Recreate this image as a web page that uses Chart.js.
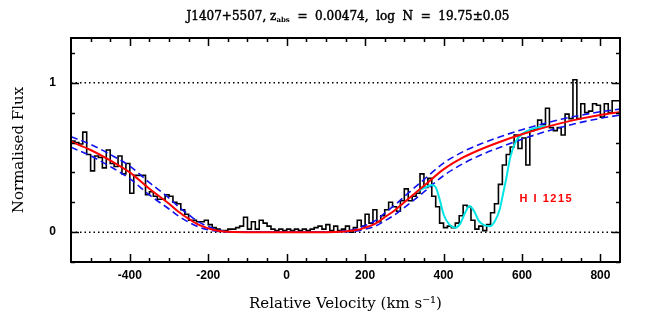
<!DOCTYPE html>
<html>
<head>
<meta charset="utf-8">
<script src="https://cdn.jsdelivr.net/npm/chart.js@4.4.1/dist/chart.umd.min.js"></script>
<style>
html,body{margin:0;padding:0;background:#fff;}
#wrap{width:654px;height:327px;position:relative;}
canvas{display:block;}
</style>
</head>
<body>
<div id="wrap"><canvas id="c" width="654" height="327"></canvas></div>
<script>
// ---------------- data ----------------
const titleParts = ['J1407+5507, z', 'abs', '  =  0.00474,  log  N  =  19.75\u00b10.05'];
const xTitle = 'Relative Velocity (km s\u207b\u00b9)';
const yTitle = 'Normalised Flux';
const lineLabel = 'H I 1215';

const xTickValues = [-550,-500,-450,-400,-350,-300,-250,-200,-150,-100,-50,0,50,100,150,200,250,300,350,400,450,500,550,600,650,700,750,800,850];
const xLabelValues = [-400,-200,0,200,400,600,800];
const yTickValues = [-0.2,0,0.2,0.4,0.6,0.8,1,1.2];
const yLabelValues = [0,1];

// observed spectrum: bin left edges (km/s) and normalised flux
const histVel = [
-550,-540,-530,-520,-510,-500,-490,-480,-470,-460,
-450,-440,-430,-420,-410,-400,-390,-380,-370,-360,
-350,-340,-330,-320,-310,-300,-290,-280,-270,-260,
-250,-240,-230,-220,-210,-200,-190,-180,-170,-160,
-150,-140,-130,-120,-110,-100,-90,-80,-70,-60,
-50,-40,-30,-20,-10,0,10,20,30,40,
50,60,70,80,90,100,110,120,130,140,
150,160,170,180,190,200,210,220,230,240,
250,260,270,280,290,300,310,320,330,340,
350,360,370,380,390,400,410,420,430,440,
450,460,470,480,490,500,510,520,530,540,
550,560,570,580,590,600,610,620,630,640,
650,660,670,680,690,700,710,720,730,740,
750,760,770,780,790,800,810,820,830,840,
850];
const histFlux = [
0.49,0.61,0.60,0.59,0.67,0.52,0.41,0.51,0.50,0.43,
0.55,0.46,0.44,0.51,0.39,0.46,0.26,0.38,0.38,0.38,
0.25,0.27,0.24,0.22,0.22,0.25,0.24,0.20,0.19,0.15,
0.12,0.08,0.08,0.07,0.07,0.08,0.05,0.03,0.02,0.01,
0.01,0.02,0.02,0.03,0.04,0.10,0.02,0.07,0.02,0.08,
0.06,0.04,0.02,0.01,0.02,0.01,0.02,0.01,0.02,0.01,
0.02,0.01,0.02,0.03,0.04,0.02,0.05,0.01,0.04,0.01,
0.02,0.04,0.00,0.03,0.08,0.04,0.12,0.06,0.15,0.07,
0.11,0.15,0.20,0.17,0.14,0.21,0.29,0.21,0.24,0.26,
0.39,0.30,0.36,0.24,0.17,0.06,0.03,0.04,0.03,0.06,
0.11,0.18,0.17,0.08,0.02,0.04,0.01,0.05,0.13,0.19,
0.32,0.45,0.52,0.57,0.65,0.56,0.63,0.45,0.68,0.69,
0.75,0.72,0.83,0.70,0.68,0.70,0.65,0.79,0.76,1.02,
0.76,0.86,0.80,0.81,0.86,0.85,0.77,0.86,0.80,0.88,
0.88];

// Voigt fit (red) and +/- error fits (blue dashed)
const fitVel = [-550,-500,-450,-400,-350,-300,-275,-250,-225,-200,-175,-150,-100,-50,0,50,100,150,175,200,225,250,275,300,350,400,450,500,550,600,650,700,750,800,850];
const fitFlux = [0.605,0.55,0.48,0.40,0.29,0.19,0.135,0.09,0.05,0.025,0.009,0.002,0,0,0,0,0,0.005,0.012,0.03,0.055,0.10,0.145,0.20,0.31,0.42,0.50,0.56,0.61,0.655,0.695,0.73,0.76,0.785,0.805];
const fitUpper = [0.639,0.587,0.520,0.442,0.332,0.228,0.168,0.117,0.069,0.037,0.015,0.004,0,0,0,0,0,0.009,0.019,0.044,0.075,0.128,0.179,0.238,0.352,0.462,0.539,0.596,0.644,0.686,0.723,0.756,0.783,0.806,0.824];
const fitLower = [0.569,0.511,0.439,0.358,0.249,0.155,0.106,0.067,0.035,0.016,0.005,0.001,0,0,0,0,0,0.003,0.007,0.020,0.039,0.075,0.115,0.164,0.269,0.378,0.459,0.522,0.574,0.622,0.665,0.702,0.735,0.762,0.784];

// fit including blended absorbers (cyan)
const blendVel = [330,350,370,380,390,400,415,430,442,455,466,478,490,505,518,530,543,552,560,570,585,602,620,640,660];
const blendFlux = [0.27,0.295,0.315,0.30,0.22,0.12,0.05,0.03,0.055,0.13,0.175,0.14,0.075,0.045,0.04,0.07,0.15,0.26,0.36,0.50,0.61,0.66,0.685,0.70,0.71];

const refLevels = [0, 1];
const labelPos = {v: 594, f: 0.22};

// ---------------- helpers ----------------
const pts = (xs, ys) => xs.map((x, i) => ({x: x, y: ys[i]}));
const xMin = -550, xMax = 850;

const datasets = [
  {data: pts(fitVel, fitFlux), borderColor: '#ff0000', borderWidth: 2, cubicInterpolationMode: 'monotone', pointRadius: 0},
  {data: pts(blendVel, blendFlux), borderColor: '#00e5e5', borderWidth: 2, cubicInterpolationMode: 'monotone', pointRadius: 0},
  {data: pts(fitVel, fitUpper), borderColor: '#1010f0', borderWidth: 1.6, borderDash: [7, 4], cubicInterpolationMode: 'monotone', pointRadius: 0},
  {data: pts(fitVel, fitLower), borderColor: '#1010f0', borderWidth: 1.6, borderDash: [7, 4], cubicInterpolationMode: 'monotone', pointRadius: 0},
  {data: pts(histVel, histFlux), borderColor: '#000', borderWidth: 1.6, stepped: 'after', pointRadius: 0},
];
refLevels.forEach(l => datasets.push({
  data: [{x: xMin, y: l}, {x: xMax, y: l}], borderColor: '#000', borderWidth: 1.5, borderDash: [1.5, 3], pointRadius: 0
}));

const framePlugin = {
  id: 'frame',
  afterDraw(chart) {
    const {ctx, chartArea: a, scales: {x, y}} = chart;
    ctx.save();
    ctx.strokeStyle = '#000';
    ctx.lineWidth = 1.5;
    ctx.beginPath();
    x.ticks.forEach(t => {
      const px = Math.round(x.getPixelForValue(t.value)) + 0.5;
      if (px < a.left + 1 || px > a.right - 1) return;
      const L = xLabelValues.includes(t.value) ? 8 : 4;
      ctx.moveTo(px, a.bottom); ctx.lineTo(px, a.bottom - L);
      ctx.moveTo(px, a.top); ctx.lineTo(px, a.top + L);
    });
    y.ticks.forEach(t => {
      const py = Math.round(y.getPixelForValue(t.value)) + 0.5;
      const L = yLabelValues.includes(t.value) ? 8 : 4;
      ctx.moveTo(a.left, py); ctx.lineTo(a.left + L, py);
      ctx.moveTo(a.right, py); ctx.lineTo(a.right - L, py);
    });
    ctx.stroke();
    ctx.lineWidth = 2;
    ctx.strokeRect(a.left, a.top, a.right - a.left, a.bottom - a.top);

    // line identification label
    ctx.fillStyle = '#ff0000';
    ctx.font = 'bold 11px "Liberation Sans"';
    ctx.letterSpacing = '1.5px';
    ctx.textBaseline = 'middle';
    ctx.textAlign = 'left';
    ctx.fillText(lineLabel, x.getPixelForValue(labelPos.v), y.getPixelForValue(labelPos.f));
    ctx.letterSpacing = '0px';

    // title with subscript
    ctx.fillStyle = '#000';
    ctx.strokeStyle = '#000';
    ctx.lineWidth = 0.45;
    ctx.textBaseline = 'alphabetic';
    const main = '12px "DejaVu Serif"', sub = 'bold 7px "DejaVu Serif"';
    ctx.font = main;
    const w1 = ctx.measureText(titleParts[0]).width, w3 = ctx.measureText(titleParts[2]).width;
    ctx.font = sub;
    const w2 = ctx.measureText(titleParts[1]).width;
    let tx = 348 - (w1 + w2 + w3) / 2;
    const ty = 19.5;
    ctx.font = main; ctx.fillText(titleParts[0], tx, ty); ctx.strokeText(titleParts[0], tx, ty); tx += w1;
    ctx.font = sub; ctx.fillText(titleParts[1], tx, ty + 2.5); tx += w2;
    ctx.font = main; ctx.fillText(titleParts[2], tx, ty); ctx.strokeText(titleParts[2], tx, ty);
    ctx.restore();
  }
};

new Chart(document.getElementById('c'), {
  type: 'line',
  data: {datasets: datasets},
  options: {
    responsive: false,
    animation: false,
    devicePixelRatio: 1,
    layout: {padding: {left: 0, right: 34, top: 38, bottom: 0}},
    elements: {point: {radius: 0}, line: {tension: 0}},
    plugins: {legend: {display: false}, tooltip: {enabled: false}, title: {display: false}},
    scales: {
      x: {
        type: 'linear', min: xMin, max: xMax,
        grid: {display: false, drawTicks: false}, border: {display: false},
        afterBuildTicks: s => { s.ticks = xTickValues.map(v => ({value: v})); },
        afterFit: s => { s.height = 65; },
        ticks: {autoSkip: false, maxRotation: 0, padding: 6, color: '#000',
          font: {family: 'Liberation Sans', weight: 'bold', size: 12},
          callback: v => xLabelValues.includes(v) ? String(v) : ''},
        title: {display: true, text: xTitle, color: '#000',
          font: {family: 'DejaVu Serif', size: 15}, padding: {top: 0, bottom: 14}}
      },
      y: {
        type: 'linear', min: -0.2, max: 1.3,
        grid: {display: false, drawTicks: false}, border: {display: false},
        afterBuildTicks: s => { s.ticks = yTickValues.map(v => ({value: v})); },
        afterFit: s => { s.width = 71; },
        ticks: {autoSkip: false, padding: 15, color: '#000',
          font: {family: 'Liberation Sans', weight: 'bold', size: 12},
          callback: v => yLabelValues.includes(v) ? String(v) : ''},
        title: {display: true, text: yTitle, color: '#000',
          font: {family: 'DejaVu Serif', size: 15}, padding: {top: 10, bottom: 0}}
      }
    }
  },
  plugins: [framePlugin]
});
</script>
</body>
</html>
